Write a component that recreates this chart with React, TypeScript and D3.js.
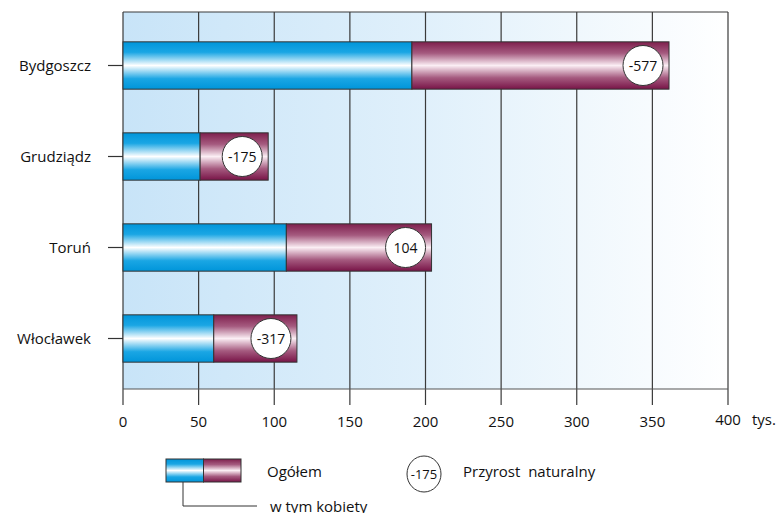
import { useEffect } from 'react';
import * as d3 from 'd3';

const cities = ['Bydgoszcz', 'Grudziądz', 'Toruń', 'Włocławek'];
const women = [191, 51, 108, 60];
const total = [361, 96, 204, 115];
const growth = [-577, -175, 104, -317];
const xTicks = [0, 50, 100, 150, 200, 250, 300, 350, 400];

const W = 781;
const H = 513;
const FONT = "'Open Sans', 'Noto Sans', sans-serif";

export default function App() {
  useEffect(() => {
    document.body.style.margin = '0';
  }, []);

  const left = 123;
  const right = 728;
  const top = 12;
  const bottom = 389;

  const x = d3.scaleLinear().domain([0, 400]).range([left, right]);
  const y = d3.scaleBand().domain(cities).range([20, 384]).paddingInner(0.48).paddingOuter(0.24);
  const bh = y.bandwidth();

  const rows = cities.map((c, i) => ({
    city: c,
    women: women[i],
    total: total[i],
    growth: growth[i],
  }));

  return (
    <svg width={W} height={H} style={{ display: 'block' }} fontFamily={FONT}>
      <defs>
        <linearGradient id="bg" x1="0" x2="1" y1="0" y2="0">
          <stop offset="0" stopColor="#c8e4f8" />
          <stop offset="0.5" stopColor="#e0f0fb" />
          <stop offset="1" stopColor="#ffffff" />
        </linearGradient>
        <linearGradient id="blue" x1="0" x2="0" y1="0" y2="1">
          <stop offset="0" stopColor="#0095da" />
          <stop offset="0.22" stopColor="#1aa6e4" />
          <stop offset="0.5" stopColor="#ffffff" />
          <stop offset="0.78" stopColor="#1aa6e4" />
          <stop offset="1" stopColor="#0095da" />
        </linearGradient>
        <linearGradient id="purple" x1="0" x2="0" y1="0" y2="1">
          <stop offset="0" stopColor="#7e1f4d" />
          <stop offset="0.24" stopColor="#a55a7f" />
          <stop offset="0.5" stopColor="#fbeef4" />
          <stop offset="0.76" stopColor="#a55a7f" />
          <stop offset="1" stopColor="#781447" />
        </linearGradient>
      </defs>

      {/* plot background */}
      <rect x={left} y={top} width={right - left} height={bottom - top} fill="url(#bg)" />

      {/* vertical grid + ticks */}
      {xTicks.map((t) => (
        <g key={t}>
          <line x1={x(t)} x2={x(t)} y1={top} y2={405} stroke="#3a3a3a" strokeWidth={1.2} />
          <text
            x={x(t)}
            y={t === 400 ? 425 : 427}
            textAnchor="middle"
            fontSize={15}
            fill="#111"
          >
            {t}
          </text>
        </g>
      ))}
      <text x={752} y={425} fontSize={15} fill="#111">tys.</text>

      {/* frame */}
      <line x1={left} x2={right} y1={top} y2={top} stroke="#3a3a3a" strokeWidth={1.2} />
      <line x1={left} x2={right} y1={bottom} y2={bottom} stroke="#555" strokeWidth={1.2} />

      {/* bars */}
      {rows.map((r) => {
        const y0 = y(r.city)!;
        const cy = y0 + bh / 2;
        const bx = x(r.total) - 26;
        return (
          <g key={r.city}>
            <line x1={108} x2={left} y1={cy} y2={cy} stroke="#333" strokeWidth={1.2} />
            <text x={91} y={cy + 5} textAnchor="end" fontSize={15} fill="#111">
              {r.city}
            </text>
            <rect
              x={x(0)}
              y={y0}
              width={x(r.women) - x(0)}
              height={bh}
              fill="url(#blue)"
              stroke="#333"
              strokeWidth={1}
            />
            <rect
              x={x(r.women)}
              y={y0}
              width={x(r.total) - x(r.women)}
              height={bh}
              fill="url(#purple)"
              stroke="#333"
              strokeWidth={1}
            />
            <circle cx={bx} cy={cy} r={20} fill="#fff" stroke="#333" strokeWidth={1} />
            <text x={bx} y={cy + 5} textAnchor="middle" fontSize={14} fill="#111">
              {r.growth}
            </text>
          </g>
        );
      })}

      {/* legend */}
      <rect x={166} y={459} width={37.5} height={23} fill="url(#blue)" stroke="#333" strokeWidth={1} />
      <rect x={203.5} y={459} width={37.5} height={23} fill="url(#purple)" stroke="#333" strokeWidth={1} />
      <text x={267} y={477} fontSize={15} fill="#111">Ogółem</text>
      <polyline points="183,482 183,506 257,506" fill="none" stroke="#333" strokeWidth={1} />
      <text x={270} y={512} fontSize={15} fill="#111">w tym kobiety</text>
      <ellipse cx={424} cy={474} rx={17} ry={18} fill="#fff" stroke="#333" strokeWidth={1} />
      <text x={424} y={479} textAnchor="middle" fontSize={13} fill="#111">-175</text>
      <text x={463} y={477} fontSize={15} fill="#111" xmlSpace="preserve">Przyrost  naturalny</text>
    </svg>
  );
}
